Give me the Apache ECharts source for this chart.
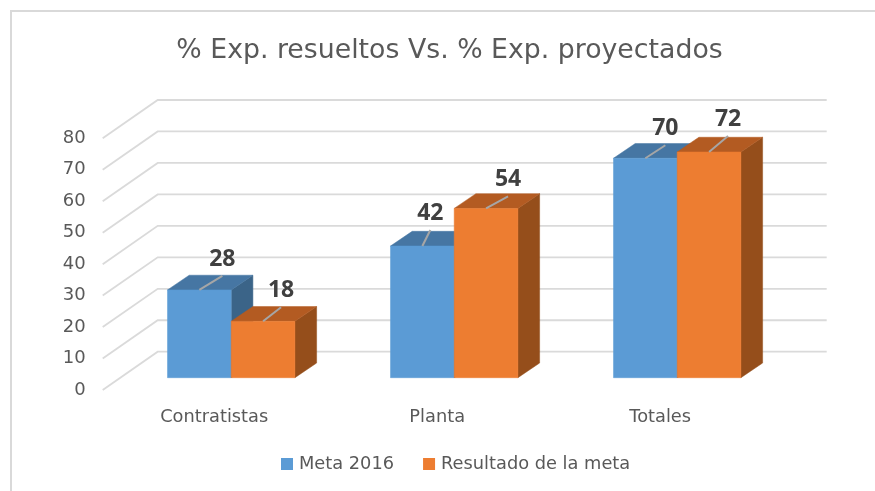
<!DOCTYPE html>
<html><head><meta charset="utf-8">
<style>html,body{margin:0;padding:0;background:#fff}#c{width:875px;height:491px}</style>
<script src="https://cdn.jsdelivr.net/npm/echarts@6/dist/echarts.min.js"></script>
</head><body><div id="c"></div>
<script>
const categories = ['Contratistas', 'Planta', 'Totales'];
const metaValues = [28, 42, 70];
const resultadoValues = [18, 54, 72];
const gridTicks = [0, 10, 20, 30, 40, 50, 60, 70, 80];

// 3D projection styling, in pixels
const WALL = { dx: 55, dy: -38.3 };
const BAR_PLANE = { dx: 17, dy: -12.3 };
const BAR_DEPTH = { dx: 21.7, dy: -14.7 };
const BAR_WIDTH_RATIO = 0.2857;
const BAR_HEIGHT_SCALE = 0.9965;
// label anchor relative to the top-centre of the front face: [series][category]
const LABEL_SHIFT = [
  [[23, -14], [8, -16], [20, -13]],
  [[18, -14], [22, -12], [19, -16]]
];

function barRenderer(seriesIdx, colors) {
  return function (params, api) {
    const cat = api.value(0), val = api.value(1);
    const band = api.size([1, 0])[0];
    const w = band * BAR_WIDTH_RATIO;
    const base = api.coord([cat, 0]);
    const top = api.coord([cat, val]);
    const x0 = base[0] + BAR_PLANE.dx + (seriesIdx === 0 ? -w : 0);
    const x1 = x0 + w;
    const yB = base[1] + BAR_PLANE.dy;
    const yT = yB - (base[1] - top[1]) * BAR_HEIGHT_SCALE;
    const dx = BAR_DEPTH.dx, dy = BAR_DEPTH.dy;
    const cx = (x0 + x1) / 2;
    const sh = LABEL_SHIFT[seriesIdx][cat];
    const lx = cx + sh[0], ly = yT + sh[1];
    const poly = (pts, fill) => ({ type: 'polygon', shape: { points: pts }, style: { fill: fill, stroke: fill, lineWidth: 0.5 } });
    return {
      type: 'group',
      children: [
        poly([[x1, yT], [x1 + dx, yT + dy], [x1 + dx, yB + dy], [x1, yB]], colors.side),
        poly([[x0, yT], [x0 + dx, yT + dy], [x1 + dx, yT + dy], [x1, yT]], colors.top),
        poly([[x0, yT], [x1, yT], [x1, yB], [x0, yB]], colors.front),
        { type: 'line', shape: { x1: cx, y1: yT, x2: lx, y2: ly }, style: { stroke: '#A6A6A6', lineWidth: 2 } },
        { type: 'text', style: { x: lx, y: ly - 16.5, text: String(val), align: 'center', verticalAlign: 'middle',
            font: 'bold 23px "Open Sans", sans-serif', fill: '#404040' } }
      ]
    };
  };
}

const option = {
  animation: false,
  backgroundColor: '#fff',
  graphic: [{
    type: 'polyline', silent: true, z: 0,
    shape: { points: [[11, 491], [11, 11], [875, 11]] },
    style: { stroke: '#D9D9D9', lineWidth: 2, fill: null }
  }],
  title: {
    text: '% Exp. resueltos Vs. % Exp. proyectados',
    left: 444.5, top: 33, textAlign: 'center',
    textStyle: { fontFamily: 'DejaVu Sans', fontSize: 26.75, fontWeight: 'normal', color: '#595959' }
  },
  legend: {
    left: 281, top: 455, padding: 0, itemWidth: 12, itemHeight: 12, itemGap: 29, icon: 'rect',
    data: ['Meta 2016', 'Resultado de la meta'],
    textStyle: { fontFamily: 'DejaVu Sans', fontSize: 17.8, color: '#595959', padding: [0, 0, 0, 1] }
  },
  grid: { left: 102.7, width: 669, top: 138.3, height: 251.7 },
  xAxis: {
    type: 'category', data: categories,
    axisLine: { show: false }, axisTick: { show: false },
    axisLabel: { fontFamily: 'DejaVu Sans', fontSize: 17.8, color: '#595959', margin: 18 }
  },
  yAxis: {
    type: 'value', min: 0, max: 80, interval: 10,
    axisLine: { show: false }, axisTick: { show: false }, splitLine: { show: false },
    axisLabel: { fontFamily: 'DejaVu Sans', fontSize: 18, color: '#595959', margin: 17, padding: [3, 0, 0, 0] }
  },
  series: [
    {
      type: 'custom', silent: true, z: 1,
      data: gridTicks.map(t => [0, t]),
      encode: { x: 0, y: 1 },
      renderItem: function (params, api) {
        const p = api.coord([0, api.value(1)]);
        const x0 = params.coordSys.x, xEnd = x0 + params.coordSys.width;
        return {
          type: 'polyline',
          shape: { points: [[x0, p[1]], [x0 + WALL.dx, p[1] + WALL.dy], [xEnd + WALL.dx, p[1] + WALL.dy]] },
          style: { stroke: '#DADADA', lineWidth: 1.8, fill: null }
        };
      }
    },
    {
      type: 'custom', name: 'Meta 2016', z: 2,
      itemStyle: { color: '#5B9BD5' },
      data: metaValues.map((v, i) => [i, v]), encode: { x: 0, y: 1 },
      renderItem: barRenderer(0, { front: '#5B9BD5', top: '#4676A3', side: '#3B6488' })
    },
    {
      type: 'custom', name: 'Resultado de la meta', z: 3,
      itemStyle: { color: '#ED7D31' },
      data: resultadoValues.map((v, i) => [i, v]), encode: { x: 0, y: 1 },
      renderItem: barRenderer(1, { front: '#ED7D31', top: '#B35B22', side: '#954E1B' })
    }
  ]
};
const chart = echarts.init(document.getElementById('c'), null, { renderer: 'canvas' });
chart.setOption(option);
</script></body></html>
